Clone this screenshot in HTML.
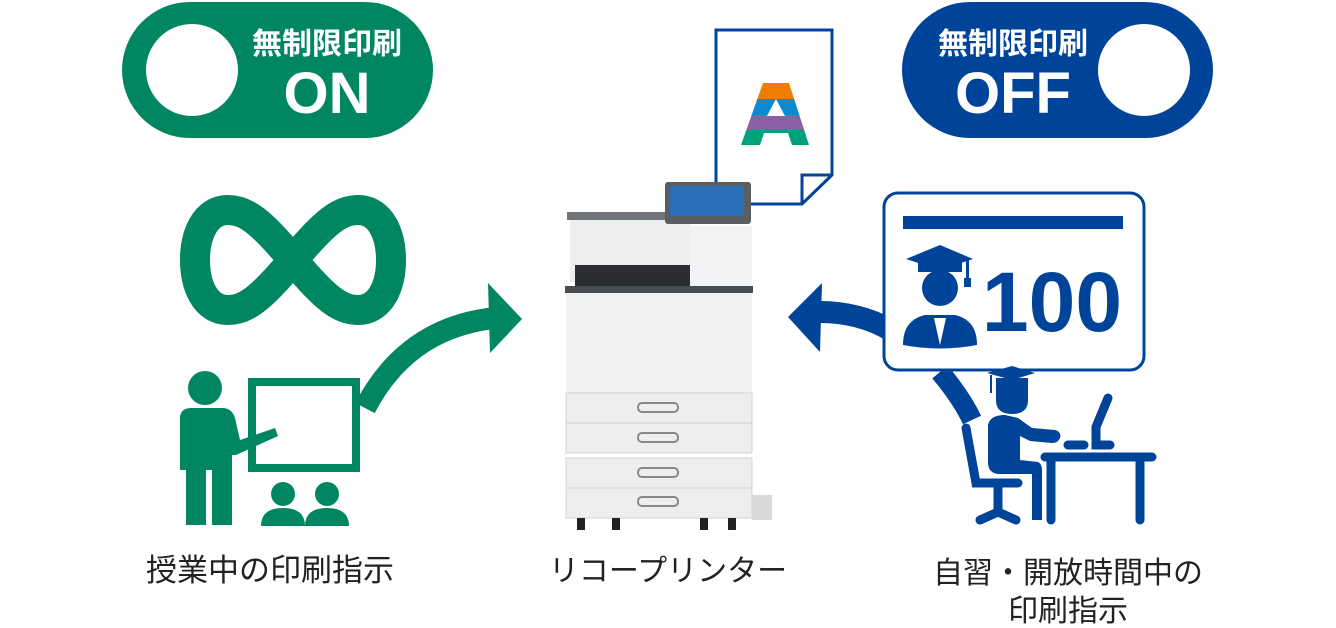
<!DOCTYPE html>
<html><head><meta charset="utf-8"><style>
html,body{margin:0;padding:0;background:#fff;width:1336px;height:628px;overflow:hidden}
svg text{font-family:"Liberation Sans","Noto Sans CJK JP",sans-serif}
</style></head><body>
<svg width="1336" height="628" viewBox="0 0 1336 628" xmlns="http://www.w3.org/2000/svg">
<!-- green pill -->
<rect x="122" y="2" width="311" height="136" rx="68" fill="#008762"/>
<circle cx="192" cy="70" r="46" fill="#fff"/>
<text x="327" y="54" font-size="30" font-weight="bold" fill="#fff" text-anchor="middle">無制限印刷</text>
<text x="327" y="113" font-size="58" font-weight="bold" fill="#fff" text-anchor="middle">ON</text>
<!-- blue pill -->
<rect x="902" y="2" width="311" height="136" rx="68" fill="#00449a"/>
<circle cx="1144" cy="70" r="46" fill="#fff"/>
<text x="1013" y="54" font-size="30" font-weight="bold" fill="#fff" text-anchor="middle">無制限印刷</text>
<text x="1013" y="113" font-size="58" font-weight="bold" fill="#fff" text-anchor="middle">OFF</text>
<!-- infinity -->
<path d="M293,260 C260,220 245,210 228,210 C205,210 195,235 195,260 C195,285 205,310 228,310 C245,310 260,300 293,260 C326,220 341,210 358,210 C381,210 391,235 391,260 C391,285 381,310 358,310 C341,310 326,300 293,260 Z" fill="none" stroke="#008762" stroke-width="30"/>
<!-- green arrow -->
<path d="M365,408 C390,360 430,325 495,318" fill="none" stroke="#008762" stroke-width="22"/>
<polygon points="488,283 522,319 490,353" fill="#008762"/>
<!-- teacher -->
<circle cx="205" cy="388" r="17" fill="#008762"/>
<path d="M180,418 Q180,408 192,408 L222,408 Q232,408 235,418 L240,440 L275,428 L278,436 L236,455 L232,455 L232,525 L212,525 L212,470 L206,470 L206,525 L186,525 L186,470 L180,470 Z" fill="#008762"/>
<rect x="252" y="382" width="104" height="86" fill="none" stroke="#008762" stroke-width="8"/>
<circle cx="283" cy="494" r="12" fill="#008762"/>
<circle cx="327" cy="494" r="12" fill="#008762"/>
<path d="M261,526 Q261,508 283,508 Q305,508 305,526 Z" fill="#008762"/>
<path d="M305,526 Q305,508 327,508 Q349,508 349,526 Z" fill="#008762"/>
<!-- document -->
<path d="M716,30 L832,30 L832,175 L802,204 L716,204 Z" fill="#fff" stroke="#00449a" stroke-width="3"/>
<path d="M802,204 L802,175 L832,175" fill="none" stroke="#00449a" stroke-width="3"/>
<clipPath id="ac"><path clip-rule="evenodd" d="M763,83 L789,83 L809,145 L792,145 L788,133 L764,133 L760,145 L741,145 Z M767,116 L785,116 L776,99 Z"/></clipPath>
<g clip-path="url(#ac)">
<rect x="740" y="83" width="70" height="16" fill="#ee7d00"/>
<rect x="740" y="99" width="70" height="16" fill="#0a8ad2"/>
<rect x="740" y="115" width="70" height="15" fill="#8d5ea3"/>
<rect x="740" y="130" width="70" height="16" fill="#00a27c"/>
</g>
<!-- printer -->
<rect x="570" y="212" width="120" height="70" fill="#eceeef"/>
<rect x="567" y="212" width="125" height="8" fill="#707478"/>
<rect x="665" y="182" width="86" height="42" rx="3" fill="#5a5e62"/>
<rect x="670" y="186" width="74" height="30" fill="#2a6fb8"/>
<rect x="690" y="226" width="62" height="60" fill="#f2f3f4"/>
<path d="M575,265 L690,265 L690,287 L575,287 Z" fill="#2b2d30"/>
<rect x="565" y="286" width="188" height="7" fill="#4a4d50"/>
<rect x="566" y="293" width="186" height="100" fill="#f1f2f3"/>
<rect x="566" y="393" width="186" height="30" fill="#eceeef" stroke="#d0d3d6"/>
<rect x="566" y="423" width="186" height="30" fill="#eceeef" stroke="#d0d3d6"/>
<rect x="566" y="458" width="186" height="30" fill="#eceeef" stroke="#d0d3d6"/>
<rect x="566" y="488" width="186" height="30" fill="#eceeef" stroke="#d0d3d6"/>
<rect x="752" y="495" width="20" height="25" fill="#d8dadc"/>
<g fill="none" stroke="#888" stroke-width="2">
<rect x="638" y="403" width="40" height="9" rx="4"/><rect x="638" y="433" width="40" height="9" rx="4"/>
<rect x="638" y="468" width="40" height="9" rx="4"/><rect x="638" y="497" width="40" height="9" rx="4"/>
</g>
<g fill="#222"><rect x="577" y="518" width="8" height="12"/><rect x="612" y="518" width="8" height="12"/><rect x="700" y="518" width="8" height="12"/><rect x="728" y="518" width="8" height="12"/></g>
<!-- blue arrow -->
<path d="M940,372 C955,390 965,405 972,420" fill="none" stroke="#00449a" stroke-width="20"/>
<path d="M890,330 C870,318 845,312 820,312" fill="none" stroke="#00449a" stroke-width="22"/>
<polygon points="822,283 788,317 820,352" fill="#00449a"/>
<!-- card -->
<rect x="884" y="193" width="260" height="177" rx="14" fill="#fff" stroke="#00449a" stroke-width="3"/>
<rect x="903" y="216" width="220" height="13" fill="#00449a"/>
<text x="1052" y="331" font-size="84" font-weight="bold" fill="#00449a" text-anchor="middle">100</text>
<!-- graduate in card -->
<polygon points="906,259 940,245 973,259 940,270" fill="#00449a"/>
<rect x="918" y="262" width="44" height="10" fill="#00449a"/>
<rect x="966" y="259" width="3" height="22" fill="#00449a"/>
<rect x="964" y="278" width="7" height="9" fill="#00449a"/>
<ellipse cx="940" cy="288" rx="18" ry="18" fill="#00449a"/>
<path d="M903,345 Q903,320 925,315 L955,315 Q977,320 977,345 Q940,352 903,345 Z" fill="#00449a"/>
<path d="M934,318 L940,345 L946,318 Z" fill="#fff"/>
<!-- student at desk -->
<polygon points="987,373 1012,366 1035,373 1012,380" fill="#00449a"/>
<rect x="996" y="378" width="32" height="6" fill="#00449a"/>
<rect x="990" y="375" width="2" height="18" fill="#00449a"/>
<path d="M996,384 L1028,384 L1028,400 Q1028,414 1012,414 Q996,414 996,400 Z" fill="#00449a"/>
<path d="M988,425 Q990,415 1005,415 L1018,418 L1032,428 L1055,430 Q1062,432 1060,438 Q1058,443 1052,443 L1030,441 L1020,436 L1020,460 L1038,462 Q1042,464 1042,470 L1042,520 L1032,520 L1032,474 L1000,474 Q988,474 988,462 Z" fill="#00449a"/>
<g stroke="#00449a" stroke-width="9" stroke-linecap="round" fill="none">
<path d="M966,428 L976,483 L1018,483"/>
<path d="M998,483 L998,512 M980,520 L998,512 L1016,520"/>
<path d="M1045,457 L1152,457"/>
<path d="M1051,457 L1051,520 M1140,457 L1140,520"/>
<path d="M1068,445 L1084,445"/>
<path d="M1108,398 L1096,427 L1096,445 L1110,445"/>
</g>
<!-- labels -->
<text x="270" y="581" font-size="31" fill="#222" text-anchor="middle">授業中の印刷指示</text>
<text x="668" y="581" font-size="30" fill="#222" text-anchor="middle">リコープリンター</text>
<text x="1068" y="583" font-size="30" fill="#222" text-anchor="middle">自習・開放時間中の</text>
<text x="1068" y="621" font-size="30" fill="#222" text-anchor="middle">印刷指示</text>
</svg>
</body></html>
